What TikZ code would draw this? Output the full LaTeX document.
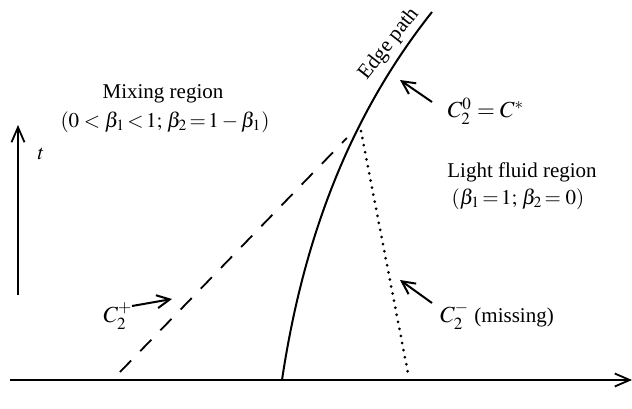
\documentclass[tikz,border=0pt]{standalone}
\usepackage{mathptmx}
\usepackage[no-math]{fontspec}
\setmainfont{Liberation Serif}
\usetikzlibrary{arrows.meta,calc}
\begin{document}
\begin{tikzpicture}[x=0.5pt,y=-0.5pt,
  font=\fontsize{10.5}{12.6}\selectfont,
  axisline/.style={line width=0.9pt,-{Straight Barb[length=7.5pt,width=6.5pt,line width=0.9pt]}},
  pointer/.style={line width=1pt,-{Straight Barb[length=6.5pt,width=6.5pt,line width=1pt]}},
  edgecurve/.style={line width=1pt},
  charline/.style={line width=0.9pt,dash pattern=on 8pt off 6.5pt},
  missline/.style={line width=1.5pt,line cap=round,dash pattern=on 0pt off 3.6pt},
  lbl/.style={inner sep=0pt,align=center}]
\useasboundingbox (0,0) rectangle (632,408);
% axes
\coordinate (xs) at (10,380);
\coordinate (xe) at (632,380);
\coordinate (ts) at (18,295);
\coordinate (te) at (18,125);
\draw[axisline] (xs) -- (xe);
\draw[axisline] (ts) -- (te);
\node[lbl] (tlab) at (41,154) {$t$};
% edge path
\coordinate (e0) at (282,380);
\coordinate (e1) at (432,12);
\coordinate (J) at (357.5,127);
\draw[edgecurve] (e0) .. controls (301.5,250) and (344,123) .. (e1);
\node[lbl,rotate=52] (edgelab) at (389,44) {Edge path};
% characteristics
\coordinate (d0) at (120,372);
\draw[charline] (d0) -- ($(d0)!0.955!(J)$);
\coordinate (m0) at (361,131);
\coordinate (m1) at (408,373);
\draw[missline] (m0) -- (m1);
% pointers
\coordinate (p0a) at (432,102);
\coordinate (p0b) at (400,80);
\draw[pointer] (p0a) -- (p0b);
\coordinate (ppa) at (132,306);
\coordinate (ppb) at (172,299);
\draw[pointer] (ppa) -- (ppb);
\coordinate (pma) at (432,303);
\coordinate (pmb) at (400,280);
\draw[pointer] (pma) -- (pmb);
% labels
\node[lbl,font=\fontsize{11.5}{13}\selectfont] (c0) at (486,111) {$C_2^0 = C^*$};
\node[lbl,font=\fontsize{11.5}{13}\selectfont] (cp) at (118,316) {$C_2^+$};
\node[lbl] (cm) at (497,316) {{\fontsize{11.5}{13}\selectfont$C_2^-$} (missing)};
\node[lbl] (mix1) at (163,94) {Mixing region};
\node[lbl] (mix2) at (165,122) {$(0<\beta_1\!<\!1;\,\beta_2\!=\!1-\beta_1)$};
\node[lbl] (lf1) at (522,172) {Light fluid region};
\node[lbl] (lf2) at (518,199) {$(\beta_1\!=\!1;\,\beta_2\!=0)$};
\end{tikzpicture}
\end{document}
